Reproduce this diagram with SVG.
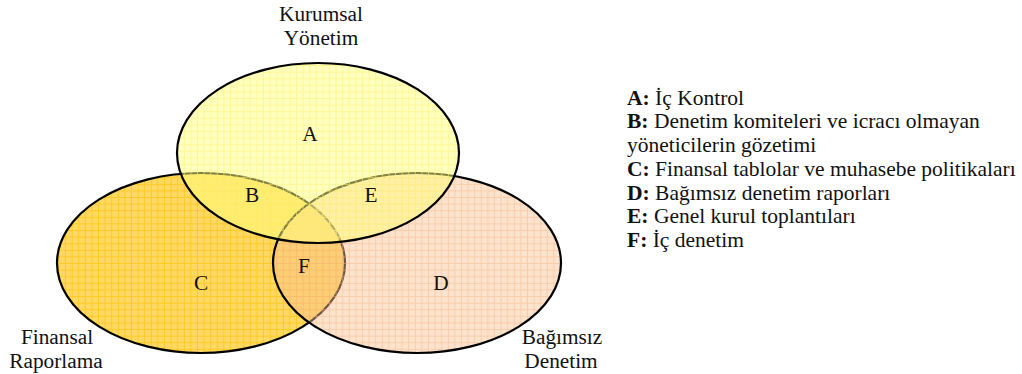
<svg xmlns="http://www.w3.org/2000/svg" width="1022" height="374" viewBox="0 0 1022 374">
<style>
text { font-family: "Liberation Serif", "Times New Roman", serif; font-size: 21.3px; fill: #111; }
.c { text-anchor: middle; }
.leg { font-size: 21.5px; }
.b { font-weight: bold; }
.outline { fill: none; stroke: #000; stroke-width: 2.2; }
</style>
<defs>
<pattern id="gridC" width="6.6" height="6.6" patternUnits="userSpaceOnUse">
<path d="M6.1 0V6.6M0 6.1H6.6" stroke="#FFC20A" stroke-width="1" fill="none" opacity="0.7"/>
</pattern>
<pattern id="gridD" width="6.6" height="6.6" patternUnits="userSpaceOnUse">
<path d="M6.1 0V6.6M0 6.1H6.6" stroke="#F7B585" stroke-width="1" fill="none" opacity="0.5"/>
</pattern>
<pattern id="gridA" width="6.6" height="6.6" patternUnits="userSpaceOnUse">
<path d="M6.1 0V6.6M0 6.1H6.6" stroke="#FFF27A" stroke-width="1" fill="none" opacity="0.6"/>
</pattern>
</defs>
<g id="node-C">
<ellipse cx="201" cy="263" rx="144" ry="90" fill="#FFD964"/>
<ellipse cx="201" cy="263" rx="144" ry="90" fill="url(#gridC)"/>
<ellipse cx="201" cy="263" rx="144" ry="90" class="outline"/>
</g>
<g id="node-D">
<ellipse cx="417" cy="263" rx="144" ry="90" fill="#F9C090" fill-opacity="0.45"/>
<ellipse cx="417" cy="263" rx="144" ry="90" fill="url(#gridD)"/>
<ellipse cx="417" cy="263" rx="144" ry="90" class="outline"/>
</g>
<g id="node-A">
<ellipse cx="318" cy="153" rx="141" ry="90" fill="#FFFF80" fill-opacity="0.5"/>
<ellipse cx="318" cy="153" rx="141" ry="90" fill="url(#gridA)"/>
<ellipse cx="318" cy="153" rx="141" ry="90" class="outline"/>
</g>
<g id="connectors"></g>
<g id="region-labels">
<text class="c" x="310" y="141">A</text>
<text class="c" x="252" y="202">B</text>
<text class="c" x="371" y="202">E</text>
<text class="c" x="201" y="290">C</text>
<text class="c" x="304" y="273">F</text>
<text class="c" x="441" y="290">D</text>
</g>
<g id="set-labels">
<text class="c" x="321" y="21">Kurumsal</text>
<text class="c" x="321" y="45">Yönetim</text>
<text class="c" x="57" y="344">Finansal</text>
<text class="c" x="56" y="368">Raporlama</text>
<text class="c" x="562" y="344">Bağımsız</text>
<text class="c" x="561" y="368">Denetim</text>
</g>
<g id="legend">
<text class="leg" x="627" y="105"><tspan class="b">A:</tspan> İç Kontrol</text>
<text class="leg" x="627" y="128"><tspan class="b">B:</tspan> Denetim komiteleri ve icracı olmayan</text>
<text class="leg" x="627" y="152">yöneticilerin gözetimi</text>
<text class="leg" x="627" y="176"><tspan class="b">C:</tspan> Finansal tablolar ve muhasebe politikaları</text>
<text class="leg" x="627" y="200"><tspan class="b">D:</tspan> Bağımsız denetim raporları</text>
<text class="leg" x="627" y="223"><tspan class="b">E:</tspan> Genel kurul toplantıları</text>
<text class="leg" x="627" y="247"><tspan class="b">F:</tspan> İç denetim</text>
</g>
</svg>
